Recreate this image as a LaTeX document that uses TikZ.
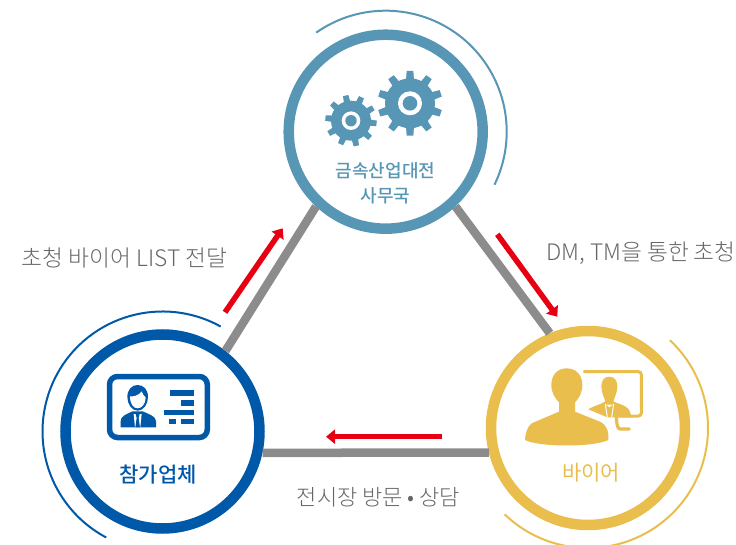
\documentclass[tikz,border=0pt]{standalone}
\usepackage{fontspec}
\setmainfont{Noto Sans CJK KR}
\newfontfamily\lightfont{Noto Sans CJK KR Light}
\newfontfamily\mediumfont{Noto Sans CJK KR Medium}
\usetikzlibrary{arrows.meta}

\definecolor{teal1}{HTML}{5896B5}
\definecolor{blue1}{HTML}{0058A9}
\definecolor{gold1}{HTML}{EABE4C}
\definecolor{gray1}{HTML}{8C8C8C}
\definecolor{red1}{HTML}{E60012}
\definecolor{text1}{HTML}{666666}

\tikzset{
    hub/.style={circle,draw=#1,fill=white,line width=10.5pt,minimum size=194pt,inner sep=0pt},
    link/.style={draw=gray1,line width=8.5pt},
    flow/.style={draw=red1,line width=5.5pt,-{Triangle[length=9pt,width=14pt]}},
    orbit/.style={draw=#1,line width=2pt},
    note/.style={text=text1,font=\lightfont\fontsize{22.7}{26}\selectfont,inner sep=0pt},
    hubname/.style={text=#1,font=\mediumfont\fontsize{18}{25}\selectfont,inner sep=0pt,align=center}
}

% one gear: centre, body radius, tip radius, offset, ring outer, ring inner, tooth width
\newcommand{\geardraw}[7]{
    \begin{scope}[shift={#1}]
        \fill[teal1] (0,0) circle (#2);
        \foreach \a in {0,36,...,324}
            \fill[teal1,rotate=\a+#4] (#2-2,-#7/2) -- (#3,-#7*0.42) -- (#3,#7*0.42) -- (#2-2,#7/2) -- cycle;
        \fill[white] (0,0) circle (#5);
        \fill[teal1] (0,0) circle (#6);
    \end{scope}
}

\begin{document}
\begin{tikzpicture}[x=1pt,y=-1pt]
    \useasboundingbox (0,0) rectangle (736,545);

    % The three circles
    \node[hub=teal1] (office) at (385.7,131.7) {};
    \node[hub=blue1] (exhibitor) at (162.5,431.5) {};
    \node[hub=gold1] (buyer) at (588,428) {};

    % Grey sides of the triangle
    \draw[link] (office.227) -- (exhibitor.52);
    \draw[link] (office.-47) -- (buyer.112);
    \draw[link] (exhibitor.-12) -- (buyer.194);

    % Thin arcs round the circles
    \draw[orbit=teal1] ([shift={(125:121pt)}]office.center) arc[start angle=125,end angle=-26,radius=121pt];
    \draw[orbit=blue1] ([shift={(61:120pt)}]exhibitor.center) arc[start angle=61,end angle=242,radius=120pt];
    \draw[orbit=gold1] ([shift={(47:120pt)}]buyer.center) arc[start angle=47,end angle=-134,radius=120pt];

    % Red arrows
    \coordinate (a1) at (225,312.3);
    \coordinate (a2) at (282.7,228.3);
    \coordinate (b1) at (497.3,234.3);
    \coordinate (b2) at (557.3,316.7);
    \coordinate (c1) at (442.3,436.7);
    \coordinate (c2) at (326,436.7);
    \draw[flow] (a1) -- (a2);
    \draw[flow] (b1) -- (b2);
    \draw[flow] (c1) -- (c2);

    % Gears
    \geardraw{(410,103.3)}{25}{32.3}{18}{12}{7.3}{8}
    \geardraw{(351,120.7)}{20}{25.7}{30}{9.3}{5.7}{6.5}

    % Card icon
    \draw[blue1,line width=5.5pt,rounded corners=8pt] (109.5,376.5) rectangle (207.3,437.5);
    \fill[blue1] (170,390.3) rectangle (194,396);
    \fill[blue1] (181.3,400.3) rectangle (194,405.7);
    \fill[blue1] (164,409.7) rectangle (194,415);
    \fill[blue1] (169,418.7) rectangle (176,423.7);
    \fill[blue1] (181.3,418.7) rectangle (194,423.7);
    \begin{scope}[shift={(100,368)},scale=1/3]
        \fill[blue1] (62,178) -- (62,160) .. controls (62,145) and (75,140) .. (98,130) -- (128,130) .. controls (150,140) and (168,145) .. (168,160) -- (168,178) -- cycle;
        \fill[white] (101,138) -- (125,138) -- (121,178) -- (105,178) -- cycle;
        \fill[blue1] (107,138) -- (119,138) -- (116,150) -- (120,178) -- (106,178) -- (110,150) -- cycle;
        \fill[blue1] (113,51) .. controls (95,51) and (82,65) .. (82,87) .. controls (82,108) and (95,128) .. (113,128) .. controls (131,128) and (144,108) .. (144,87) .. controls (144,65) and (131,51) .. (113,51) -- cycle;
        \fill[white] (90,85) .. controls (100,86) and (115,84) .. (125,70) .. controls (128,78) and (132,85) .. (137,88) .. controls (137,108) and (125,121) .. (113,121) .. controls (100,121) and (90,108) .. (90,85) -- cycle;
    \end{scope}

    % Buyer icon
    \begin{scope}[shift={(520,360)},scale=1/3]
        \draw[gold1,line width=3pt,rounded corners=3pt] (190,35) -- (364,35) -- (364,168) -- (295,168);
        \draw[gold1,line width=3.3pt,line cap=round] (289,172) .. controls (290,190) and (292,207) .. (300,207) -- (328,207);
        \fill[gold1] (268,50) .. controls (252,50) and (244,62) .. (244,80) .. controls (244,100) and (255,115) .. (257,130) -- (279,130) .. controls (281,115) and (292,100) .. (292,80) .. controls (292,62) and (284,50) .. (268,50) -- cycle;
        \fill[gold1] (205,148) .. controls (225,135) and (240,135) .. (255,125) -- (282,125) .. controls (300,135) and (333,135) .. (333,172) -- (262,172) -- cycle;
        \draw[white,line width=1pt] (256,132) -- (262,172);
        \draw[white,line width=1pt] (281,132) -- (275,172);
        \fill[white] (259,134) -- (278,134) -- (268,142) -- cycle;
        \draw[white,line width=3pt] (170,150) -- (245,180) .. controls (268,192) and (276,215) .. (278,250);
        \fill[gold1] (140,25) .. controls (112,25) and (94,45) .. (94,75) .. controls (94,98) and (105,115) .. (117,127) -- (117,155) -- (35,190) .. controls (22,198) and (15,225) .. (15,240) .. controls (60,262) and (220,262) .. (265,240) .. controls (268,220) and (262,195) .. (240,185) -- (165,155) -- (165,127) .. controls (177,115) and (187,98) .. (187,75) .. controls (187,45) and (168,25) .. (140,25) -- cycle;
    \end{scope}

    % Names in the circles
    \node[hubname=teal1] (officename) at (385.5,183.5) {금속산업대전\\사무국};
    \node[hubname=blue1,font=\mediumfont\fontsize{21}{24}\selectfont] (exhibitorname) at (158,475) {참가업체};
    \node[hubname=gold1,font=\fontsize{21}{24}\selectfont] (buyername) at (591,473) {바이어};

    % Side labels
    \node[note] (invite) at (124.5,258) {초청 바이어 LIST 전달};
    \node[note] (contact) at (641,253) {DM, TM을 통한 초청};
    \node[note,font=\lightfont\fontsize{22}{26}\selectfont] (visit) at (378.5,497) {전시장 방문 • 상담};
\end{tikzpicture}
\end{document}
